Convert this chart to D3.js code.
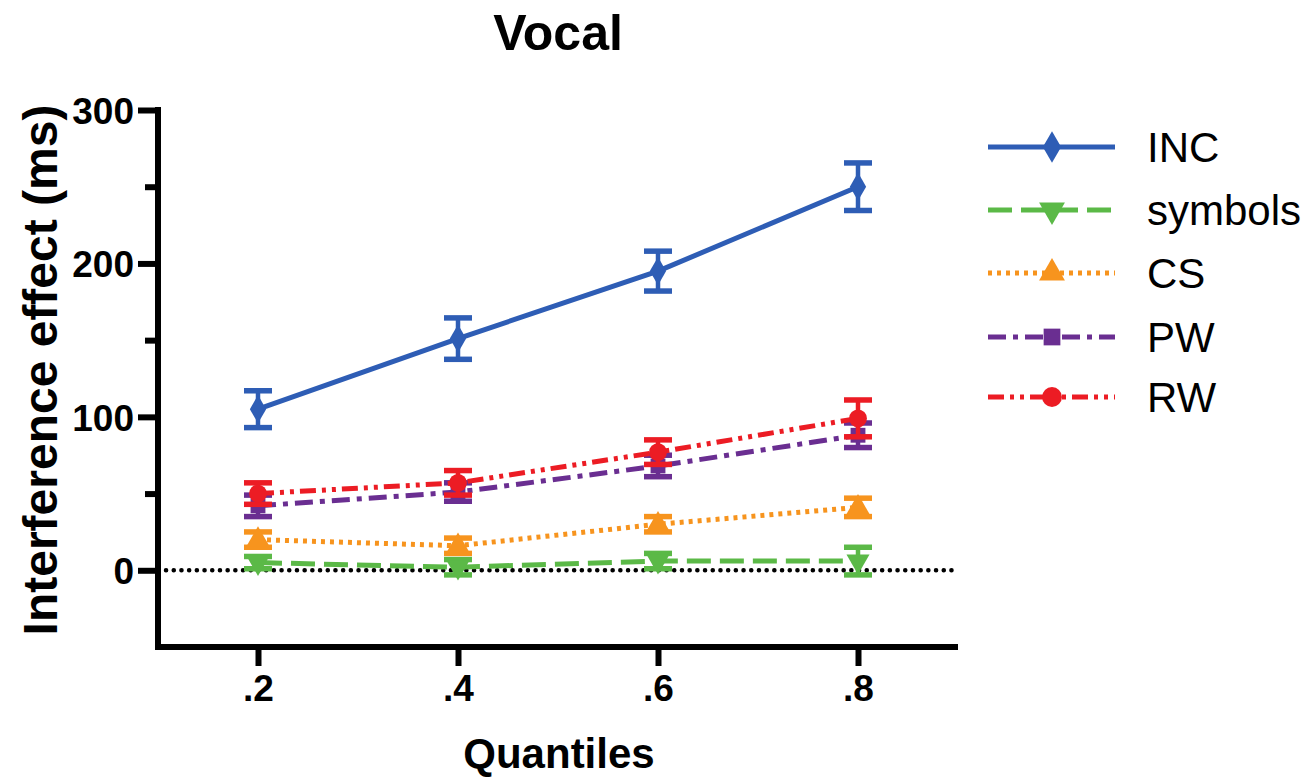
<!DOCTYPE html>
<html><head><meta charset="utf-8">
<script src="https://cdn.jsdelivr.net/npm/d3@7"></script>
<style>body{margin:0;background:#fff}svg{display:block}text{font-family:"Liberation Sans",Arial,sans-serif}</style>
</head><body>
<svg id="c" width="1313" height="778"></svg>
<script>
const quantiles = [0.2, 0.4, 0.6, 0.8];
const tickLabels = [".2", ".4", ".6", ".8"];
const yTicks = [0, 100, 200, 300];
const yMinor = [50, 150, 250];
const seriesNames = ["INC", "symbols", "CS", "PW", "RW"];
const incVals = [105, 151, 195, 250];
const incErr = [12, 13.5, 13, 15.5];
const symVals = [5, 2, 6, 6];
const symErr = [4, 5, 5, 9];
const csVals = [20, 16, 30, 41];
const csErr = [5, 5, 5, 6];
const pwVals = [42, 51, 68, 88];
const pwErr = [7, 6, 7, 8];
const rwVals = [50, 57, 77, 99];
const rwErr = [7, 8, 8, 12];

const colors = ["#2E5DB5", "#5BB947", "#F7941E", "#6A2E91", "#EC1C24"];
const dashes = [null, "24,9", "4,5", "18,7,5,7", "16,6,4,6,4,6"];
const symbolsT = [d3.symbolDiamond, d3.symbolTriangle, d3.symbolTriangle, d3.symbolSquare, d3.symbolCircle];
const rot = [0, 180, 0, 0, 0];
const sizes = [230, 230, 230, 220, 250];
const values = [incVals, symVals, csVals, pwVals, rwVals];
const errs = [incErr, symErr, csErr, pwErr, rwErr];

const svg = d3.select("#c");
const x = d3.scaleLinear().domain([0.1, 0.9]).range([158, 958]);
const y = d3.scaleLinear().domain([-50, 300]).range([647, 110]);

// title
svg.append("text").attr("x", 558).attr("y", 50).attr("text-anchor", "middle")
  .attr("font-size", 50).attr("font-weight", "bold").text("Vocal");

// zero line
svg.append("line").attr("x1", x(0.1) + 8).attr("x2", x(0.9)).attr("y1", y(0)).attr("y2", y(0))
  .attr("stroke", "#000").attr("stroke-width", 4.5).attr("stroke-linecap", "round").attr("stroke-dasharray", "0.1,7.6");

// axes
const yAxis = svg.append("g").attr("transform", `translate(${x(0.1)},0)`)
  .call(d3.axisLeft(y).tickValues(yTicks).tickSize(20).tickPadding(4).tickFormat(d3.format("d")));
const yAxisMinor = svg.append("g").attr("transform", `translate(${x(0.1)},0)`)
  .call(d3.axisLeft(y).tickValues(yMinor).tickSize(13).tickFormat(""));
const xAxis = svg.append("g").attr("transform", `translate(0,${y(-50)})`)
  .call(d3.axisBottom(x).tickValues(quantiles).tickSize(19).tickPadding(6).tickFormat((d, i) => tickLabels[i]));
[yAxis, yAxisMinor, xAxis].forEach(g => {
  g.select(".domain").remove();
  g.selectAll(".tick line").attr("stroke", "#000").attr("stroke-width", 6);
  g.selectAll(".tick text").attr("fill", "#000").attr("font-size", 37).attr("font-weight", "bold")
    .attr("font-family", '"Liberation Sans",Arial,sans-serif');
});
yAxis.selectAll(".tick text").attr("dy", "0.36em");
xAxis.selectAll(".tick text").attr("dy", "0.78em");
svg.append("line").attr("x1", x(0.1)).attr("x2", x(0.1)).attr("y1", y(300) - 3).attr("y2", y(-50) + 3)
  .attr("stroke", "#000").attr("stroke-width", 6);
svg.append("line").attr("x1", x(0.1) - 3).attr("x2", x(0.9)).attr("y1", y(-50)).attr("y2", y(-50))
  .attr("stroke", "#000").attr("stroke-width", 6);

// axis titles
svg.append("text").attr("transform", `translate(57,370) rotate(-90)`).attr("text-anchor", "middle")
  .attr("font-size", 48).attr("font-weight", "bold").text("Interference effect (ms)");
svg.append("text").attr("x", 559).attr("y", 768).attr("text-anchor", "middle")
  .attr("font-size", 42).attr("font-weight", "bold").text("Quantiles");

// series
const line = d3.line().x(d => x(d[0])).y(d => y(d[1]));
seriesNames.forEach((name, si) => {
  const g = svg.append("g");
  const pts = quantiles.map((q, i) => [q, values[si][i], errs[si][i]]);
  g.append("path").datum(pts).attr("d", line).attr("fill", "none").attr("stroke", colors[si])
    .attr("stroke-width", 5).attr("stroke-dasharray", dashes[si]);
  pts.forEach(p => {
    const cx = x(p[0]);
    g.append("line").attr("x1", cx).attr("x2", cx).attr("y1", y(p[1] - p[2])).attr("y2", y(p[1] + p[2]))
      .attr("stroke", colors[si]).attr("stroke-width", 4.5);
    [p[1] - p[2], p[1] + p[2]].forEach(v => {
      g.append("line").attr("x1", cx - 14).attr("x2", cx + 14).attr("y1", y(v)).attr("y2", y(v))
        .attr("stroke", colors[si]).attr("stroke-width", 5.5);
    });
    g.append("path").attr("d", d3.symbol().type(symbolsT[si]).size(sizes[si])())
      .attr("transform", `translate(${cx},${y(p[1])}) rotate(${rot[si]})`).attr("fill", colors[si]);
  });
});

// legend
const legY = [147, 210, 273, 337, 397];
seriesNames.forEach((name, si) => {
  const g = svg.append("g").attr("transform", `translate(0,${legY[si]})`);
  g.append("line").attr("x1", 988).attr("x2", 1115).attr("y1", 0).attr("y2", 0)
    .attr("stroke", colors[si]).attr("stroke-width", 5).attr("stroke-dasharray", dashes[si]);
  g.append("path").attr("d", d3.symbol().type(symbolsT[si]).size(sizes[si] + 60)())
    .attr("transform", `translate(1052,0) rotate(${rot[si]})`).attr("fill", colors[si]);
  g.append("text").attr("x", 1147).attr("y", 15).attr("font-size", 42).attr("fill", "#000").text(name);
});
</script>
</body></html>
